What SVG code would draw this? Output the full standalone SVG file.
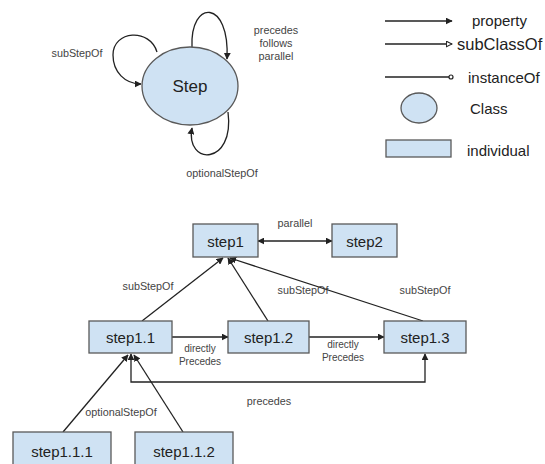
<svg xmlns="http://www.w3.org/2000/svg" width="545" height="464" viewBox="0 0 545 464">
<defs>
<style>
.node{fill:#cfe2f3;stroke:#595959;stroke-width:1.3}
.edge{fill:none;stroke:#222;stroke-width:1.3}
.nt{font-family:"Liberation Sans",Arial,sans-serif;font-size:15px;fill:#222;text-anchor:middle;dominant-baseline:central}
.lb{font-family:"Liberation Sans",Arial,sans-serif;font-size:10.8px;fill:#444;text-anchor:middle;dominant-baseline:central}
.lg{font-family:"Liberation Sans",Arial,sans-serif;font-size:15px;fill:#222;dominant-baseline:central}
</style>
<marker id="ah" viewBox="0 0 10 10" refX="9" refY="5" markerWidth="7" markerHeight="7" markerUnits="userSpaceOnUse" orient="auto-start-reverse">
<path d="M0,0 L10,5 L0,10 z" fill="#222"/>
</marker>
<marker id="tri" viewBox="0 0 10 10" refX="9" refY="5" markerWidth="7" markerHeight="7" markerUnits="userSpaceOnUse" orient="auto">
<path d="M1,1 L9,5 L1,9 z" fill="#fff" stroke="#222" stroke-width="1.5"/>
</marker>
</defs>
<rect width="545" height="464" fill="#fff"/>

<g id="connectors">
<path class="edge" d="M157,52 C150,28 113,30 113,55 C113,72 125,84 141,84" marker-end="url(#ah)"/>
<path class="edge" d="M192,47 C190,-1 230,-1 227,59" marker-end="url(#ah)"/>
<path class="edge" d="M228,112 C235,166 185,166 192,128" marker-end="url(#ah)"/>
<path class="edge" d="M258,241 H332" marker-start="url(#ah)" marker-end="url(#ah)"/>
<path class="edge" d="M142,321 L223,258" marker-end="url(#ah)"/>
<path class="edge" d="M268,321 L228,258" marker-end="url(#ah)"/>
<path class="edge" d="M423,321 L230,258" marker-end="url(#ah)"/>
<path class="edge" d="M172,337 H228" marker-end="url(#ah)"/>
<path class="edge" d="M309,337 H384" marker-end="url(#ah)"/>
<path class="edge" d="M131,354 V382 H425 V354" marker-start="url(#ah)" marker-end="url(#ah)"/>
<path class="edge" d="M63,432 L128,355" marker-end="url(#ah)"/>
<path class="edge" d="M183,432 L134,355" marker-end="url(#ah)"/>
</g>

<g id="labels">
<text class="lb" x="77" y="53">subStepOf</text>
<text class="lb" x="276" y="30">precedes</text>
<text class="lb" x="276" y="43">follows</text>
<text class="lb" x="276" y="56">parallel</text>
<text class="lb" x="222" y="173">optionalStepOf</text>
<text class="lb" x="295" y="223">parallel</text>
<text class="lb" x="148" y="286">subStepOf</text>
<text class="lb" x="303" y="290">subStepOf</text>
<text class="lb" x="425" y="290">subStepOf</text>
<text class="lb" x="200" y="348" style="font-size:10px">directly</text>
<text class="lb" x="200" y="361" style="font-size:10px">Precedes</text>
<text class="lb" x="343" y="344" style="font-size:10px">directly</text>
<text class="lb" x="343" y="357" style="font-size:10px">Precedes</text>
<text class="lb" x="269" y="401">precedes</text>
<text class="lb" x="121" y="412">optionalStepOf</text>
</g>

<g id="Step">
<ellipse class="node" cx="190" cy="86" rx="48" ry="39" stroke="#333"/>
<text class="nt" x="190" y="86" style="font-size:17px">Step</text>
</g>

<g id="legend">
<path class="edge" d="M385,21 H452" marker-end="url(#ah)"/>
<text class="lg" x="472" y="20">property</text>
<path class="edge" d="M385,44 H452" marker-end="url(#tri)"/>
<text class="lg" x="457" y="44" style="font-size:16.5px">subClassOf</text>
<path class="edge" d="M385,77 H449"/>
<circle cx="451" cy="77" r="2" fill="#fff" stroke="#222" stroke-width="1.2"/>
<text class="lg" x="468" y="77">instanceOf</text>
<ellipse class="node" cx="419" cy="108" rx="18" ry="15"/>
<text class="lg" x="470" y="108">Class</text>
<rect class="node" x="386" y="140" width="65" height="17"/>
<text class="lg" x="467" y="150">individual</text>
</g>

<g id="step1">
<rect class="node" x="193" y="224" width="65" height="33"/>
<text class="nt" x="225.5" y="241">step1</text>
</g>
<g id="step2">
<rect class="node" x="332" y="224" width="65" height="33"/>
<text class="nt" x="364.5" y="241">step2</text>
</g>
<g id="step1.1">
<rect class="node" x="89" y="321" width="83" height="32"/>
<text class="nt" x="130.5" y="337">step1.1</text>
</g>
<g id="step1.2">
<rect class="node" x="228" y="321" width="81" height="32"/>
<text class="nt" x="268.5" y="337">step1.2</text>
</g>
<g id="step1.3">
<rect class="node" x="384" y="321" width="82" height="32"/>
<text class="nt" x="425" y="337">step1.3</text>
</g>
<g id="step1.1.1">
<rect class="node" x="13" y="432" width="98" height="34"/>
<text class="nt" x="62" y="451">step1.1.1</text>
</g>
<g id="step1.1.2">
<rect class="node" x="135" y="432" width="98" height="34"/>
<text class="nt" x="184" y="451">step1.1.2</text>
</g>
</svg>
